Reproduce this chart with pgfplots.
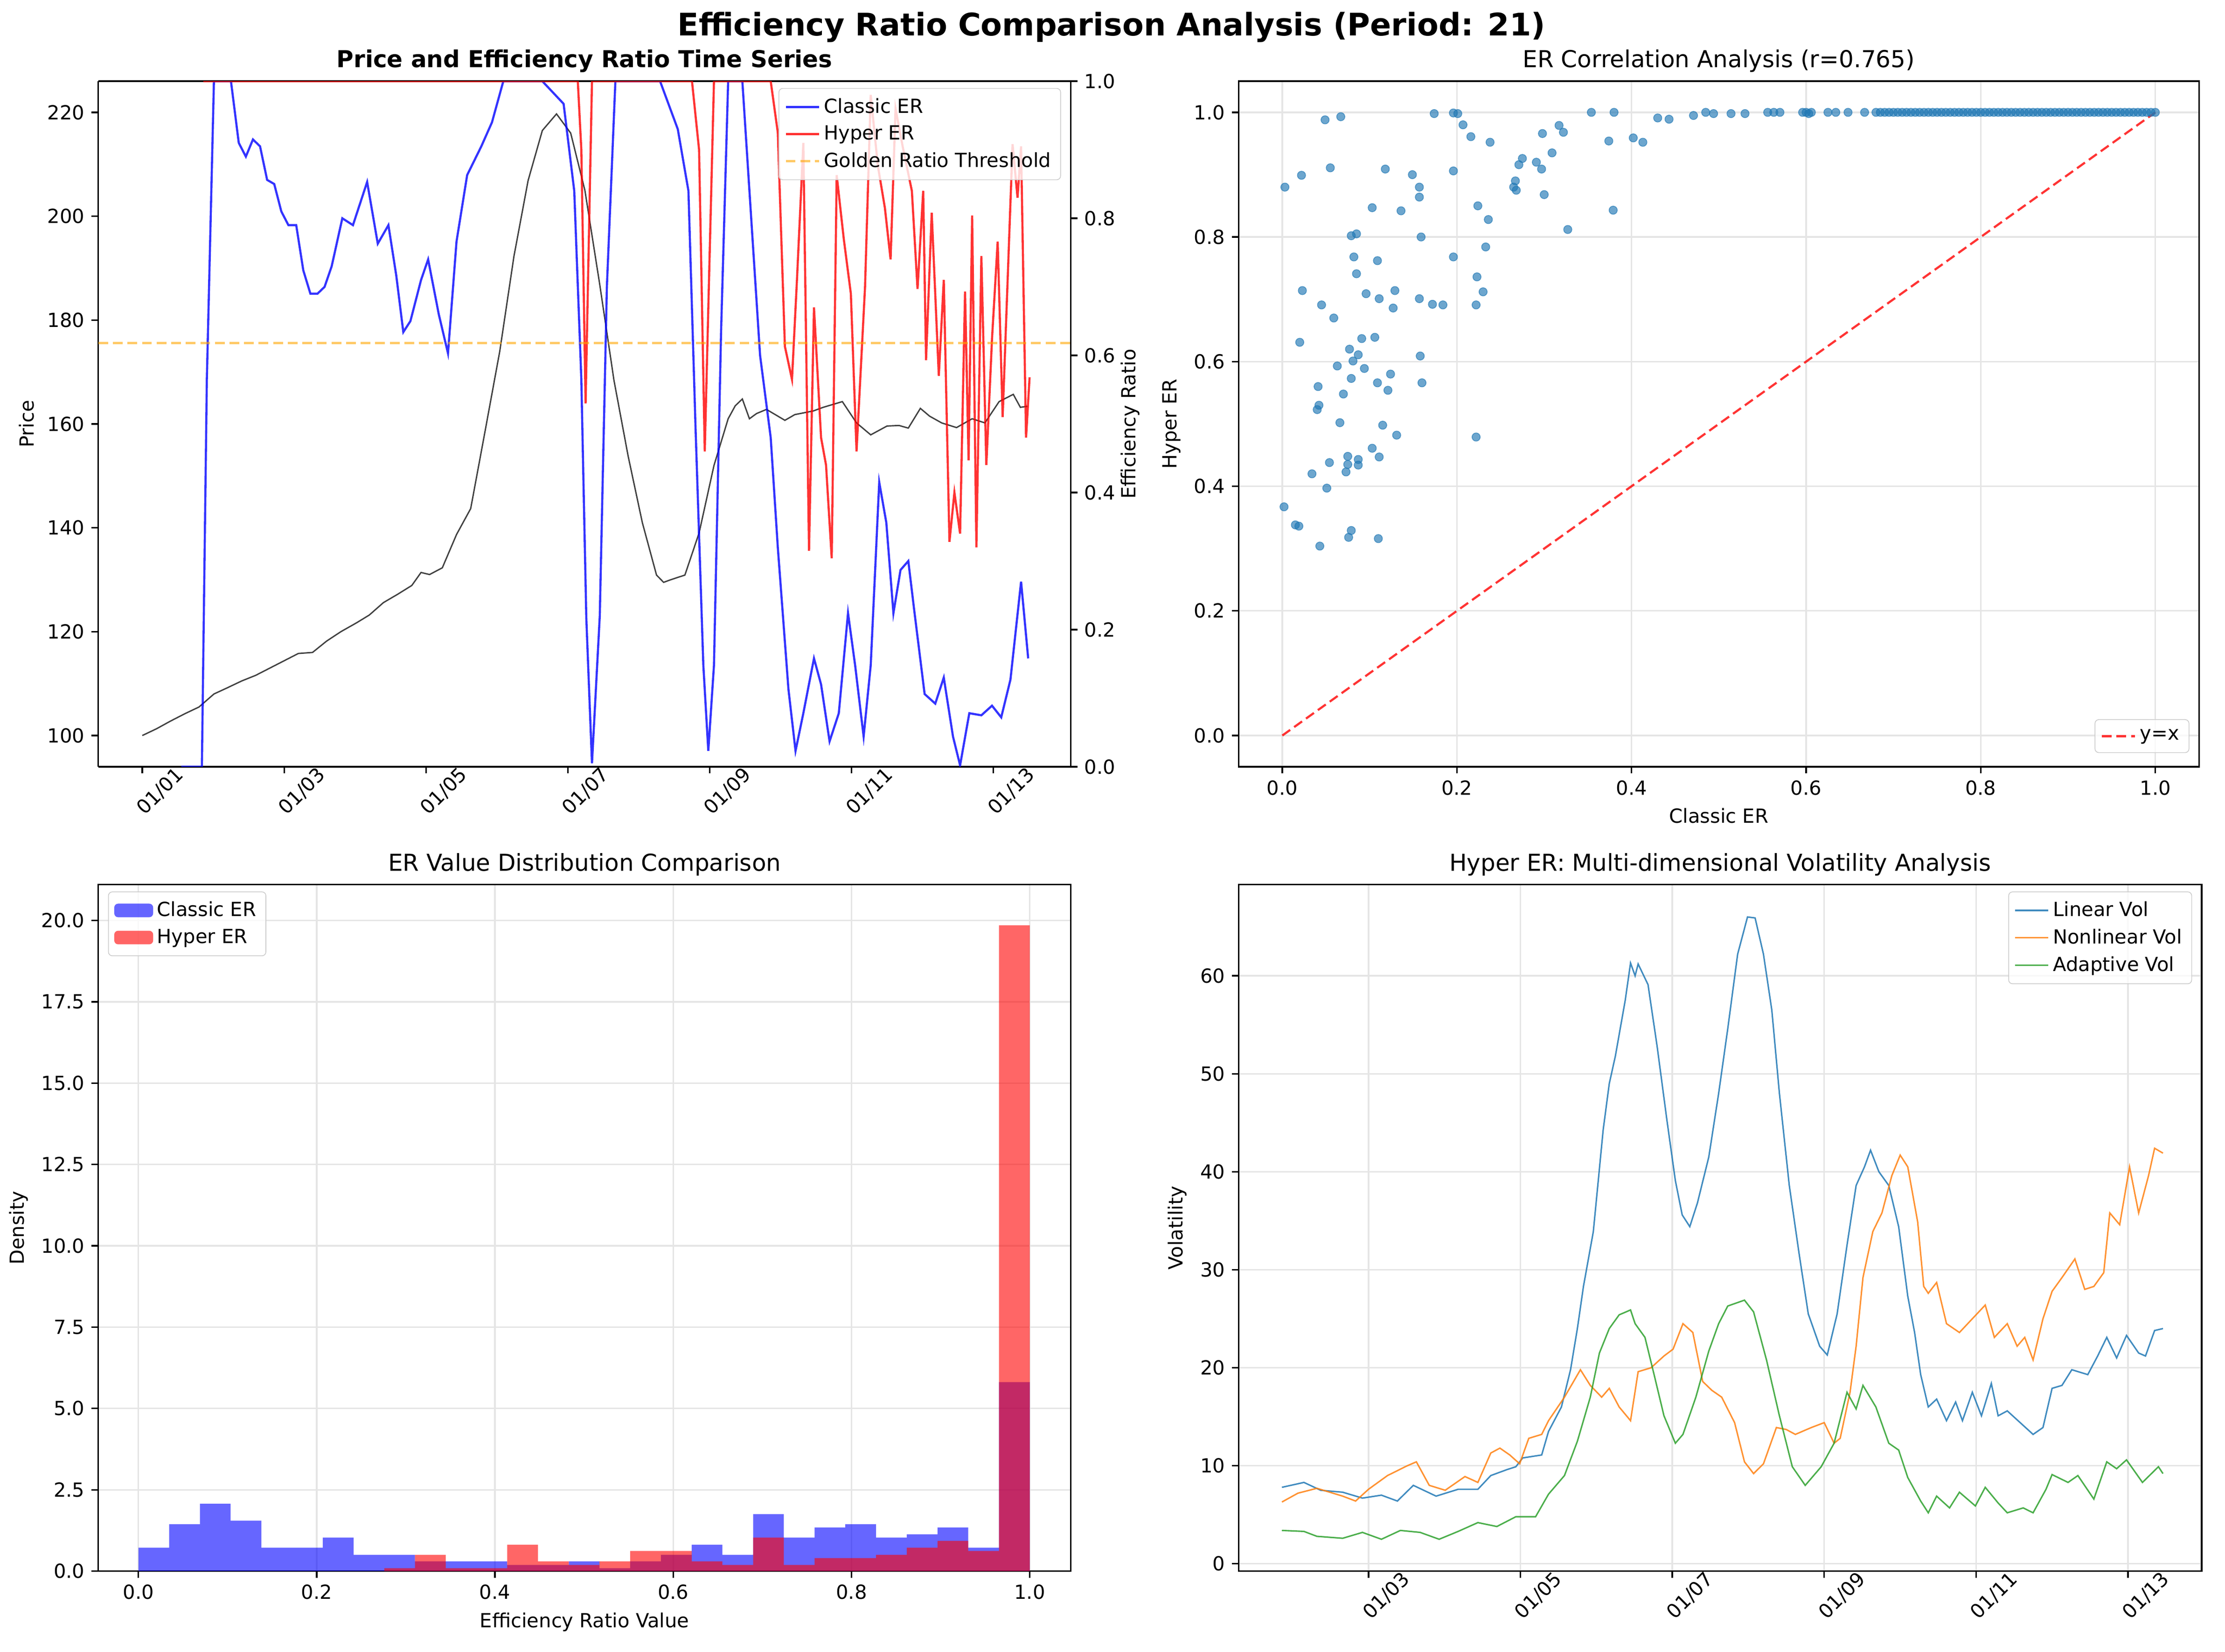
\documentclass[border=0pt]{standalone}
\usepackage{pgfplots}
\pgfplotsset{compat=1.18}
\usepackage{fontspec}
\setmainfont{DejaVu Sans}
\definecolor{tabblue}{HTML}{1F77B4}
\definecolor{taborange}{HTML}{FF7F0E}
\definecolor{tabgreen}{HTML}{2CA02C}
\definecolor{gold}{HTML}{FFA500}
\pgfplotsset{
  base/.style={scale only axis, anchor=south west,
    /pgf/number format/assume math mode=true,
    tick label style={font=\fontsize{10}{12}\selectfont},
    label style={font=\fontsize{10}{12}\selectfont},
    title style={font=\fontsize{12}{14}\selectfont, yshift=-5pt},
    tick align=outside, major tick length=3.5pt, tick style={black, line width=0.8pt},
    axis line style={line width=0.8pt},
    legend style={font=\fontsize{10}{12}\selectfont, draw=black!20, rounded corners=2pt, fill opacity=0.8, text opacity=1, inner sep=3pt, row sep=1pt},
    legend cell align=left,
    grid style={black!10, line width=0.8pt},
  },
  tl/.style={xmin=-0.62, xmax=13.09, xtick={0,2,...,12},
    xticklabels={01/01,01/03,01/05,01/07,01/09,01/11,01/13},
    x tick label style={rotate=45, anchor=center, yshift=-13pt}},
}
\begin{document}
\begin{tikzpicture}
\useasboundingbox (0,0) rectangle (1145pt,850pt);
\node[font=\fontsize{16}{19}\selectfont\bfseries] at (572pt,836pt) {Efficiency Ratio Comparison Analysis (Period: 21)};
% ---------- top left
\begin{axis}[base, tl, at={(50.6pt,455.4pt)}, width=500.4pt, height=352.8pt,
  ymin=94, ymax=226, ytick={100,120,...,220}, axis y line*=left, xtick pos=bottom, ylabel={Price},
  title={\bfseries Price and Efficiency Ratio Time Series}]
\addplot[black, opacity=0.75, line width=0.7pt] coordinates {
(0,100)(0.2,101.3)(0.4,102.8)(0.6,104.2)(0.8,105.5)(1.01,108)(1.2,109.2)(1.4,110.5)(1.6,111.6)(1.8,113)(2.00,114.4)(2.2,115.8)(2.4,116.0)(2.6,118.2)(2.8,120.0)(3.02,121.7)(3.2,123.2)(3.4,125.6)(3.6,127.2)(3.8,128.9)(3.93,131.4)(4.05,131.0)(4.23,132.3)(4.43,138.7)(4.63,143.7)(4.83,158.4)(5.04,174)(5.24,192.3)(5.44,206.9)(5.64,216.5)(5.84,219.7)(6.04,216)(6.24,205)(6.45,186.8)(6.65,168.4)(6.85,153.8)(7.05,141)(7.25,130.9)(7.35,129.5)(7.45,130)(7.65,130.9)(7.85,139)(8.06,152)(8.26,161)(8.36,163.5)(8.46,164.8)(8.56,161)(8.66,162)(8.8,162.8)(9.06,160.7)(9.2,161.8)(9.46,162.5)(9.6,163.2)(9.87,164.3)(10.07,160.2)(10.27,157.9)(10.5,159.6)(10.67,159.7)(10.8,159.2)(10.97,163)(11.1,161.5)(11.27,160.2)(11.48,159.3)(11.7,161)(11.88,160.2)(12.08,164.3)(12.28,165.7)(12.38,163.2)(12.48,163.4)};
\end{axis}
\begin{axis}[base, tl, at={(50.6pt,455.4pt)}, width=500.4pt, height=352.8pt,
  ymin=0, ymax=1, ytick={0,0.2,...,1.0}, axis y line*=right, axis x line=none,
  yticklabel style={/pgf/number format/.cd, fixed, fixed zerofill, precision=1},
  ylabel={Efficiency Ratio}, ylabel style={yshift=4pt},
  legend style={at={(0.99,0.99)}, anchor=north east}]
\addplot[blue, opacity=0.8, line width=1.1pt] coordinates {
(0.55,0)(0.84,0)(0.91,0.565)(1.01,1.0)(1.25,1.0)(1.36,0.91)(1.46,0.89)(1.56,0.915)(1.66,0.905)(1.76,0.856)(1.86,0.85)(1.96,0.81)(2.06,0.79)(2.17,0.79)(2.27,0.724)(2.37,0.69)(2.47,0.69)(2.57,0.70)(2.67,0.73)(2.82,0.80)(2.97,0.79)(3.17,0.853)(3.32,0.763)(3.47,0.79)(3.58,0.717)(3.68,0.634)(3.78,0.65)(3.93,0.71)(4.03,0.74)(4.18,0.66)(4.31,0.603)(4.43,0.766)(4.58,0.863)(4.78,0.905)(4.93,0.94)(5.09,1)(5.64,1)(5.94,0.967)(6.09,0.84)(6.19,0.565)(6.26,0.217)(6.34,0.005)(6.45,0.22)(6.55,0.70)(6.67,1)(7.30,1)(7.55,0.93)(7.70,0.84)(7.80,0.495)(7.91,0.148)(7.98,0.023)(8.06,0.148)(8.16,0.634)(8.26,1)(8.46,1)(8.56,0.84)(8.71,0.60)(8.86,0.48)(8.96,0.32)(9.11,0.113)(9.21,0.023)(9.32,0.078)(9.47,0.158)(9.57,0.12)(9.69,0.037)(9.82,0.078)(9.95,0.224)(10.05,0.148)(10.17,0.044)(10.27,0.148)(10.39,0.415)(10.49,0.356)(10.59,0.224)(10.69,0.287)(10.80,0.30)(10.88,0.231)(11.03,0.106)(11.18,0.092)(11.30,0.13)(11.43,0.044)(11.53,0.002)(11.66,0.078)(11.83,0.075)(11.98,0.089)(12.11,0.072)(12.24,0.127)(12.39,0.27)(12.49,0.158)};
\addlegendentry{Classic ER}
\addplot[red, opacity=0.8, line width=1.1pt] coordinates {
(0.86,1)(6.14,1)(6.19,0.9)(6.25,0.53)(6.34,1)(7.75,1)(7.85,0.9)(7.93,0.46)(8.06,1)(8.86,1)(8.96,0.925)(9.06,0.613)(9.16,0.565)(9.23,0.71)(9.32,0.91)(9.40,0.315)(9.47,0.67)(9.57,0.48)(9.64,0.44)(9.72,0.304)(9.79,0.863)(9.89,0.77)(9.99,0.69)(10.07,0.46)(10.19,0.70)(10.27,0.98)(10.37,0.877)(10.47,0.815)(10.55,0.74)(10.62,0.96)(10.72,0.905)(10.85,0.84)(10.93,0.697)(11.01,0.84)(11.05,0.593)(11.13,0.808)(11.23,0.57)(11.30,0.71)(11.38,0.328)(11.45,0.40)(11.53,0.34)(11.60,0.693)(11.65,0.447)(11.70,0.804)(11.76,0.32)(11.83,0.745)(11.90,0.44)(11.98,0.624)(12.06,0.766)(12.13,0.51)(12.27,0.908)(12.34,0.83)(12.39,0.905)(12.46,0.48)(12.51,0.568)};
\addlegendentry{Hyper ER}
\addplot[gold, opacity=0.6, line width=1.1pt, dash pattern=on 5pt off 2.5pt] coordinates {(-0.62,0.618)(13.09,0.618)};
\addlegendentry{Golden Ratio Threshold}
\end{axis}
% ---------- top right
\begin{axis}[base, at={(637.4pt,455.4pt)}, width=494.2pt, height=352.8pt,
  xmin=-0.05, xmax=1.05, ymin=-0.05, ymax=1.05, grid=major,
  xtick pos=bottom, ytick pos=left,
  xtick={0,0.2,...,1.0}, ytick={0,0.2,...,1.0},
  ticklabel style={/pgf/number format/.cd, fixed, fixed zerofill, precision=1},
  xlabel={Classic ER}, ylabel={Hyper ER},
  title={ER Correlation Analysis (r=0.765)},
  legend style={at={(0.99,0.02)}, anchor=south east}]
\addplot[only marks, mark=*, mark size=2.1pt, color=tabblue, opacity=0.65, forget plot] coordinates {
(0.003,0.880)(0.022,0.899)(0.049,0.988)(0.067,0.993)(0.055,0.911)(0.118,0.909)(0.149,0.900)(0.157,0.880)(0.157,0.864)(0.103,0.847)(0.136,0.842)(0.174,0.998)(0.196,0.999)(0.201,0.998)(0.207,0.980)(0.216,0.961)(0.238,0.952)(0.196,0.906)(0.224,0.850)(0.236,0.828)(0.079,0.802)(0.085,0.805)(0.159,0.800)(0.082,0.768)(0.109,0.762)(0.085,0.741)(0.196,0.768)(0.233,0.784)(0.223,0.736)(0.230,0.712)(0.222,0.691)(0.023,0.714)(0.045,0.691)(0.059,0.670)(0.096,0.709)(0.111,0.701)(0.129,0.714)(0.127,0.686)(0.157,0.701)(0.172,0.692)(0.184,0.691)(0.020,0.631)(0.091,0.637)(0.106,0.639)(0.077,0.620)(0.087,0.611)(0.081,0.601)(0.158,0.609)(0.063,0.593)(0.094,0.589)(0.079,0.573)(0.109,0.566)(0.124,0.580)(0.160,0.566)(0.041,0.560)(0.121,0.554)(0.070,0.548)(0.042,0.530)(0.040,0.523)(0.066,0.502)(0.115,0.498)(0.131,0.482)(0.222,0.479)(0.103,0.461)(0.075,0.448)(0.111,0.447)(0.087,0.443)(0.054,0.438)(0.075,0.435)(0.087,0.434)(0.034,0.420)(0.073,0.423)(0.051,0.397)(0.002,0.367)(0.015,0.338)(0.019,0.336)(0.079,0.329)(0.076,0.318)(0.110,0.316)(0.043,0.304)
(0.374,0.954)(0.379,0.843)(0.402,0.959)(0.413,0.952)(0.327,0.812)(0.298,0.966)(0.317,0.979)(0.322,0.968)(0.309,0.935)(0.291,0.920)(0.297,0.909)(0.271,0.916)(0.275,0.926)(0.267,0.890)(0.265,0.880)(0.268,0.875)(0.300,0.868)
(0.354,1)(0.380,1)(0.430,0.991)(0.443,0.989)(0.471,0.995)(0.485,1)(0.494,0.998)(0.514,0.998)(0.530,0.998)(0.556,1)(0.563,1)(0.570,1)(0.596,1)(0.600,1)(0.603,0.998)(0.606,1)(0.625,1)(0.634,1)(0.648,1)(0.667,1)
(0.680,1)(0.685,1)(0.690,1)(0.695,1)(0.700,1)(0.705,1)(0.710,1)(0.715,1)(0.720,1)(0.725,1)(0.730,1)(0.735,1)(0.740,1)(0.745,1)(0.750,1)(0.755,1)(0.760,1)(0.765,1)(0.770,1)(0.775,1)(0.780,1)(0.785,1)(0.790,1)(0.795,1)(0.800,1)(0.805,1)(0.810,1)(0.815,1)(0.820,1)(0.825,1)(0.830,1)(0.835,1)(0.840,1)(0.845,1)(0.850,1)(0.855,1)(0.860,1)(0.865,1)(0.870,1)(0.875,1)(0.880,1)(0.885,1)(0.890,1)(0.895,1)(0.900,1)(0.905,1)(0.910,1)(0.915,1)(0.920,1)(0.925,1)(0.930,1)(0.935,1)(0.940,1)(0.945,1)(0.950,1)(0.955,1)(0.960,1)(0.965,1)(0.970,1)(0.975,1)(0.980,1)(0.985,1)(0.990,1)(0.995,1)(1.000,1)};
\addplot[red, opacity=0.8, line width=1.1pt, dash pattern=on 5pt off 2.5pt] coordinates {(0,0)(1,1)};
\addlegendentry{y=x}
\end{axis}
% ---------- bottom left
\begin{axis}[base, at={(50.6pt,41.4pt)}, width=500.4pt, height=353.3pt,
  xmin=-0.045, xmax=1.046, ymin=0, ymax=21.1, grid=major,
  xtick pos=bottom, ytick pos=left,
  xtick={0,0.2,...,1.0}, ytick={0,2.5,...,20},
  ticklabel style={/pgf/number format/.cd, fixed, fixed zerofill, precision=1},
  xlabel={Efficiency Ratio Value}, ylabel={Density},
  title={ER Value Distribution Comparison},
  legend style={at={(0.01,0.99)}, anchor=north west},
  legend image code/.code={\fill[#1, draw=none] (0pt,-3.5pt) rectangle (20pt,3.5pt);}]
\addplot[ybar interval, fill=blue, draw=none, fill opacity=0.6] coordinates {
(0.0000,0.72)(0.0345,1.44)(0.0690,2.07)(0.1034,1.55)(0.1379,0.72)(0.1724,0.72)(0.2069,1.03)(0.2414,0.50)(0.2759,0.50)(0.3103,0.30)(0.3448,0.30)(0.3793,0.30)(0.4138,0.19)(0.4483,0.19)(0.4828,0.30)(0.5172,0.09)(0.5517,0.30)(0.5862,0.50)(0.6207,0.81)(0.6552,0.50)(0.6897,1.75)(0.7241,1.03)(0.7586,1.34)(0.7931,1.44)(0.8276,1.03)(0.8621,1.13)(0.8966,1.34)(0.9310,0.72)(0.9655,5.81)(1.0000,0)};
\addlegendentry{Classic ER}
\addplot[ybar interval, fill=red, draw=none, fill opacity=0.6] coordinates {
(0.0000,0)(0.0345,0)(0.0690,0)(0.1034,0)(0.1379,0)(0.1724,0)(0.2069,0)(0.2414,0)(0.2759,0.09)(0.3103,0.50)(0.3448,0.09)(0.3793,0.09)(0.4138,0.81)(0.4483,0.30)(0.4828,0.19)(0.5172,0.30)(0.5517,0.62)(0.5862,0.62)(0.6207,0.30)(0.6552,0.19)(0.6897,1.03)(0.7241,0.19)(0.7586,0.40)(0.7931,0.40)(0.8276,0.50)(0.8621,0.72)(0.8966,0.93)(0.9310,0.62)(0.9655,19.85)(1.0000,0)};
\addlegendentry{Hyper ER}
\end{axis}
% ---------- bottom right
\begin{axis}[base, at={(637.4pt,41.4pt)}, width=495.6pt, height=353.3pt,
  xmin=0.29, xmax=12.97, ymin=-0.75, ymax=69.3, grid=major,
  xtick pos=bottom, ytick pos=left,
  xtick={2,4,...,12}, xticklabels={01/03,01/05,01/07,01/09,01/11,01/13},
  x tick label style={rotate=45, anchor=center, yshift=-13pt},
  ytick={0,10,...,60}, ylabel={Volatility},
  title={Hyper ER: Multi-dimensional Volatility Analysis},
  legend style={at={(0.99,0.99)}, anchor=north east}]
\addplot[tabblue, opacity=0.85, line width=0.75pt] coordinates {
(0.86,7.8)(1.15,8.3)(1.37,7.5)(1.66,7.3)(1.92,6.7)(2.17,7.0)(2.38,6.4)(2.59,8.0)(2.89,6.9)(3.18,7.6)(3.44,7.6)(3.61,9.0)(3.82,9.6)(3.94,9.9)(4.03,10.8)(4.28,11.1)(4.37,13.5)(4.54,16.0)(4.66,19.8)(4.75,24.0)(4.83,28.3)(4.96,33.9)(5.09,44.3)(5.17,49.0)(5.25,51.8)(5.38,57.5)(5.45,61.3)(5.51,60.0)(5.55,61.2)(5.68,59.1)(5.80,52.8)(5.93,45.2)(6.04,39.1)(6.13,35.6)(6.23,34.4)(6.33,36.8)(6.48,41.5)(6.61,48.0)(6.73,54.6)(6.86,62.2)(6.99,66.0)(7.09,65.9)(7.20,62.2)(7.31,56.5)(7.41,48.0)(7.54,38.6)(7.67,31.6)(7.79,25.5)(7.94,22.2)(8.04,21.3)(8.17,25.5)(8.30,32.5)(8.42,38.6)(8.53,40.5)(8.61,42.2)(8.72,40.0)(8.85,38.6)(8.98,34.4)(9.10,27.3)(9.19,23.6)(9.27,19.3)(9.37,16.0)(9.48,16.8)(9.61,14.6)(9.73,16.5)(9.82,14.6)(9.95,17.5)(10.07,15.1)(10.20,18.4)(10.29,15.1)(10.41,15.6)(10.58,14.4)(10.75,13.2)(10.88,13.9)(11.00,17.9)(11.13,18.2)(11.26,19.8)(11.47,19.3)(11.60,21.2)(11.72,23.1)(11.85,21.0)(11.98,23.3)(12.14,21.5)(12.23,21.2)(12.35,23.8)(12.46,24.0)};
\addlegendentry{Linear Vol}
\addplot[taborange, opacity=0.85, line width=0.75pt] coordinates {
(0.86,6.3)(1.07,7.2)(1.32,7.7)(1.66,6.9)(1.83,6.4)(2.00,7.6)(2.25,9.0)(2.51,10.0)(2.63,10.4)(2.80,8.0)(3.01,7.5)(3.27,8.9)(3.44,8.3)(3.61,11.3)(3.73,11.8)(3.86,11.1)(3.99,10.2)(4.11,12.8)(4.28,13.2)(4.37,14.6)(4.58,17.0)(4.79,19.8)(4.92,18.2)(5.07,17.0)(5.17,17.9)(5.30,16.0)(5.45,14.6)(5.55,19.6)(5.72,20.0)(5.89,21.2)(6.01,21.9)(6.14,24.5)(6.27,23.6)(6.40,18.6)(6.52,17.7)(6.65,17.0)(6.82,14.4)(6.95,10.4)(7.07,9.2)(7.20,10.2)(7.37,13.9)(7.50,13.7)(7.62,13.2)(7.83,13.9)(8.00,14.4)(8.13,12.3)(8.21,12.8)(8.34,17.5)(8.42,22.2)(8.51,29.2)(8.64,33.9)(8.76,35.8)(8.89,39.6)(9.00,41.7)(9.10,40.5)(9.23,34.9)(9.31,28.3)(9.37,27.6)(9.48,28.7)(9.61,24.5)(9.78,23.6)(9.95,25.0)(10.12,26.4)(10.24,23.1)(10.41,24.5)(10.54,22.2)(10.64,23.1)(10.75,20.8)(10.88,25.0)(11.00,27.8)(11.13,29.2)(11.30,31.1)(11.43,28.0)(11.55,28.3)(11.68,29.7)(11.76,35.8)(11.89,34.6)(12.02,40.5)(12.14,35.8)(12.27,39.6)(12.35,42.4)(12.46,41.9)};
\addlegendentry{Nonlinear Vol}
\addplot[tabgreen, opacity=0.85, line width=0.75pt] coordinates {
(0.86,3.4)(1.15,3.3)(1.32,2.8)(1.66,2.6)(1.92,3.2)(2.17,2.5)(2.42,3.4)(2.68,3.2)(2.93,2.5)(3.18,3.3)(3.44,4.2)(3.69,3.8)(3.94,4.8)(4.20,4.8)(4.37,7.1)(4.58,9.0)(4.75,12.5)(4.92,17.0)(5.04,21.5)(5.17,24.0)(5.30,25.4)(5.45,25.9)(5.51,24.5)(5.64,23.1)(5.76,19.3)(5.89,15.1)(6.04,12.3)(6.14,13.2)(6.31,17.0)(6.48,21.7)(6.61,24.5)(6.73,26.3)(6.95,26.9)(7.07,25.7)(7.24,20.8)(7.41,15.1)(7.58,9.9)(7.75,8.0)(7.96,9.9)(8.13,12.3)(8.30,17.5)(8.42,15.8)(8.51,18.2)(8.68,16.0)(8.85,12.3)(8.98,11.6)(9.10,8.8)(9.27,6.4)(9.37,5.2)(9.48,6.9)(9.65,5.7)(9.78,7.3)(9.99,5.9)(10.12,7.8)(10.29,6.2)(10.41,5.2)(10.62,5.7)(10.75,5.2)(10.92,7.6)(11.00,9.1)(11.21,8.3)(11.34,9.0)(11.55,6.6)(11.72,10.4)(11.85,9.7)(11.98,10.6)(12.19,8.3)(12.40,9.9)(12.46,9.2)};
\addlegendentry{Adaptive Vol}
\end{axis}
\end{tikzpicture}
\end{document}
